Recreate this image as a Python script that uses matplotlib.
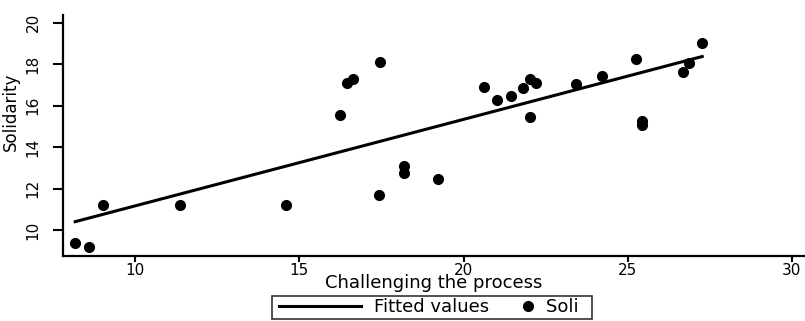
import matplotlib.pyplot as plt
import numpy as np

plt.rcParams['font.family'] = ['DejaVu Sans']

# Challenging the process (x) vs Solidarity (y)
challenge = [8.17, 8.6, 9.02, 11.37, 14.6, 16.23, 16.44, 16.63, 17.45, 17.41,
             18.2, 18.2, 19.21, 20.63, 21.02, 21.43, 21.82, 22.03, 22.21, 22.03,
             23.44, 24.22, 25.26, 25.42, 25.42, 26.67, 26.86, 27.27]
soli = [9.37, 9.18, 11.2, 11.2, 11.2, 15.54, 17.08, 17.27, 18.1, 11.68,
        13.07, 12.74, 12.47, 16.88, 16.27, 16.46, 16.86, 17.26, 17.07, 15.46,
        17.04, 17.44, 18.24, 15.27, 15.08, 17.63, 18.03, 19.0]
xticks = [10, 15, 20, 25, 30]
yticks = [10, 12, 14, 16, 18, 20]

x = np.array(challenge)
y = np.array(soli)
b, a = np.polyfit(x, y, 1)
xs = np.sort(x)

fig = plt.figure(figsize=(8.05, 3.21), dpi=100)
ax = fig.add_axes([0.0783, 0.203, 0.9217, 0.75])

ax.plot(xs, a + b * xs, color='black', lw=2.2, label='Fitted values', zorder=2)
ax.plot(x, y, 'o', color='black', ms=7, label='Soli  ', zorder=3)

ax.set_xlim(7.8, 30.4)
ax.set_ylim(8.76, 20.36)
ax.set_xticks(xticks)
ax.set_yticks(yticks)
for s in ['top', 'right']:
    ax.spines[s].set_visible(False)
for s in ['left', 'bottom']:
    ax.spines[s].set_linewidth(1.6)
ax.tick_params(axis='y', length=7, width=1.5, labelsize=11, labelrotation=90, pad=9)
ax.tick_params(axis='x', length=4, width=1.5, labelsize=11, pad=1)
for t in ax.get_yticklabels():
    t.set_va('center')

ax.set_xlabel('Challenging the process', fontsize=13, labelpad=-2.5)
ax.set_ylabel('Solidarity', fontsize=12)
ax.yaxis.set_label_coords(-0.058, 0.6)

fs = 13
hl = 4.83
leg = ax.legend(loc='center', bbox_to_anchor=(432 / 805, 1 - 307.5 / 321),
                bbox_transform=fig.transFigure, ncol=2, fontsize=fs,
                frameon=True, fancybox=False, edgecolor='black',
                handlelength=hl, handletextpad=0.72, columnspacing=-2.4,
                borderpad=0.12, borderaxespad=0)
leg.get_frame().set_linewidth(1.2)
# small gap before the line sample, and the dot close to its label
line_handle, dot_handle = leg.legend_handles
line_handle.set_xdata(np.linspace(3.8, hl * fs, 3))
xd = np.asarray(dot_handle.get_xdata(), dtype=float)
dot_handle.set_xdata(xd + (hl * fs - 3.6 - xd[len(xd) // 2]))

fig.savefig('out.png', dpi=100)
